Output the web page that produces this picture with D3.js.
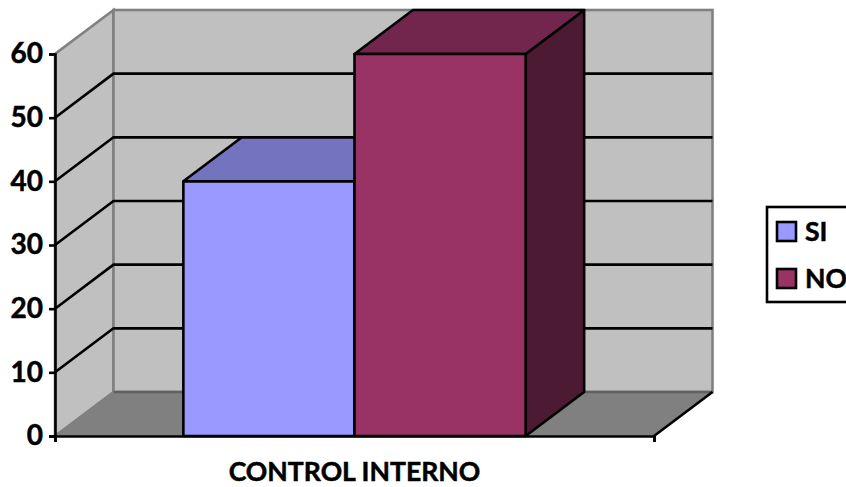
<!DOCTYPE html>
<html>
<head>
<meta charset="utf-8">
<script src="https://cdn.jsdelivr.net/npm/d3@7"></script>
<style>
  html, body { margin: 0; padding: 0; background: #fff; overflow: hidden; }
  text { font-family: Lato, "Open Sans", sans-serif; font-weight: 700; fill: #000; stroke: #000; stroke-width: 0.5px; }
</style>
</head>
<body>
<div id="chart"></div>
<script>
const categoryLabel = "CONTROL INTERNO";
const seriesNames = ["SI", "NO"];
const seriesValues = [40, 60];
const yTicks = [0, 10, 20, 30, 40, 50, 60];

const frontColors = ["#9999FF", "#993366"];
const topColors = ["#7373BF", "#73264D"];
const sideColors = ["#4D4D80", "#4D1A33"];

const width = 846, height = 487;
const plot = {left: 55, right: 654, top: 54, bottom: 436};
const depthX = 58.5, depthY = -44;
const lineW = 2.6;

const svg = d3.select("#chart")
  .append("svg")
    .attr("width", width)
    .attr("height", height)
    .style("display", "block");

const x = d3.scaleBand()
  .domain(seriesNames)
  .range([plot.left, plot.right])
  .paddingInner(0)
  .paddingOuter(0.75);

const y = d3.scaleLinear()
  .domain([0, 60])
  .range([plot.bottom, plot.top]);

// x axis has no real scale of its own, only the two end ticks
const xEnds = d3.scaleLinear().domain([0, 1]).range([plot.left, plot.right]);

const poly = pts => pts.map(p => p.join(",")).join(" ");
const yMax = y.domain()[1];

// walls
svg.append("polygon")
  .attr("points", poly([
    [plot.left, y(0)], [plot.left + depthX, y(0) + depthY],
    [plot.left + depthX, y(yMax) + depthY], [plot.left, y(yMax)]
  ]))
  .attr("fill", "#C0C0C0")
  .attr("stroke", "#808080")
  .attr("stroke-width", lineW);

svg.append("rect")
  .attr("x", plot.left + depthX)
  .attr("y", y(yMax) + depthY)
  .attr("width", plot.right - plot.left)
  .attr("height", y(0) - y(yMax))
  .attr("fill", "#C0C0C0")
  .attr("stroke", "#808080")
  .attr("stroke-width", lineW);

// gridlines
const gridTicks = yTicks.filter(d => d > 0 && d < yMax);
svg.append("g").selectAll("polyline")
  .data(gridTicks)
  .enter()
  .append("polyline")
    .attr("points", d => poly([
      [plot.left, y(d)],
      [plot.left + depthX, y(d) + depthY],
      [plot.right + depthX, y(d) + depthY]
    ]))
    .attr("fill", "none")
    .attr("stroke", "#000")
    .attr("stroke-width", lineW);

// floor
svg.append("polygon")
  .attr("points", poly([
    [plot.left, y(0)], [plot.right, y(0)],
    [plot.right + depthX, y(0) + depthY], [plot.left + depthX, y(0) + depthY]
  ]))
  .attr("fill", "#808080");

svg.append("line")
  .attr("x1", plot.left + depthX)
  .attr("x2", plot.right + depthX)
  .attr("y1", y(0) + depthY)
  .attr("y2", y(0) + depthY)
  .attr("stroke", "#606060")
  .attr("stroke-width", lineW);

svg.append("line")
  .attr("x1", plot.right)
  .attr("y1", y(0))
  .attr("x2", plot.right + depthX)
  .attr("y2", y(0) + depthY)
  .attr("stroke", "#000")
  .attr("stroke-width", lineW);

// bars
const bars = svg.append("g").selectAll("g")
  .data(seriesNames)
  .enter()
  .append("g")
    .attr("stroke", "#000")
    .attr("stroke-width", lineW)
    .attr("stroke-linejoin", "round");

bars.append("polygon")
  .attr("points", (d, i) => {
    const x1 = x(d) + x.bandwidth();
    return poly([
      [x1, y(0)], [x1 + depthX, y(0) + depthY],
      [x1 + depthX, y(seriesValues[i]) + depthY], [x1, y(seriesValues[i])]
    ]);
  })
  .attr("fill", (d, i) => sideColors[i]);

bars.append("polygon")
  .attr("points", (d, i) => {
    const x0 = x(d), x1 = x0 + x.bandwidth(), top = y(seriesValues[i]);
    return poly([
      [x0, top], [x1, top], [x1 + depthX, top + depthY], [x0 + depthX, top + depthY]
    ]);
  })
  .attr("fill", (d, i) => topColors[i]);

bars.append("rect")
  .attr("x", d => x(d))
  .attr("y", (d, i) => y(seriesValues[i]))
  .attr("width", x.bandwidth())
  .attr("height", (d, i) => y(0) - y(seriesValues[i]))
  .attr("fill", (d, i) => frontColors[i]);

// axes
const yAxis = svg.append("g")
  .attr("transform", "translate(" + plot.left + ",0)")
  .call(d3.axisLeft(y).tickValues(yTicks).tickSize(6).tickPadding(6));
yAxis.selectAll("text")
  .style("font-size", "28px")
  .style("font-family", "Lato, sans-serif")
  .style("font-weight", "700");
yAxis.selectAll(".domain, .tick line")
  .attr("stroke", "#000")
  .attr("stroke-width", lineW);

const xAxis = svg.append("g")
  .attr("transform", "translate(0," + plot.bottom + ")")
  .call(d3.axisBottom(xEnds).tickValues([0, 1]).tickSize(6).tickFormat(""));
xAxis.selectAll(".domain, .tick line")
  .attr("stroke", "#000")
  .attr("stroke-width", lineW);

svg.append("text")
  .attr("x", (plot.left + plot.right) / 2)
  .attr("y", 481)
  .attr("text-anchor", "middle")
  .style("font-size", "26.6px")
  .text(categoryLabel);

// legend
const legendX = 767, legendY = 207;
svg.append("rect")
  .attr("x", legendX)
  .attr("y", legendY)
  .attr("width", 100)
  .attr("height", 95)
  .attr("fill", "#fff")
  .attr("stroke", "#000")
  .attr("stroke-width", lineW);

const legendRow = d3.scalePoint()
  .domain(seriesNames)
  .range([legendY + 25, legendY + 72]);

const legend = svg.append("g").selectAll("g")
  .data(seriesNames)
  .enter()
  .append("g")
    .attr("transform", d => "translate(" + (legendX + 10) + "," + legendRow(d) + ")");

legend.append("rect")
  .attr("x", 0)
  .attr("y", -10)
  .attr("width", 19)
  .attr("height", 19)
  .attr("fill", (d, i) => frontColors[i])
  .attr("stroke", "#000")
  .attr("stroke-width", lineW);

legend.append("text")
  .attr("x", 28)
  .attr("y", 9)
  .style("font-size", "26.6px")
  .text(d => d);
</script>
</body>
</html>
